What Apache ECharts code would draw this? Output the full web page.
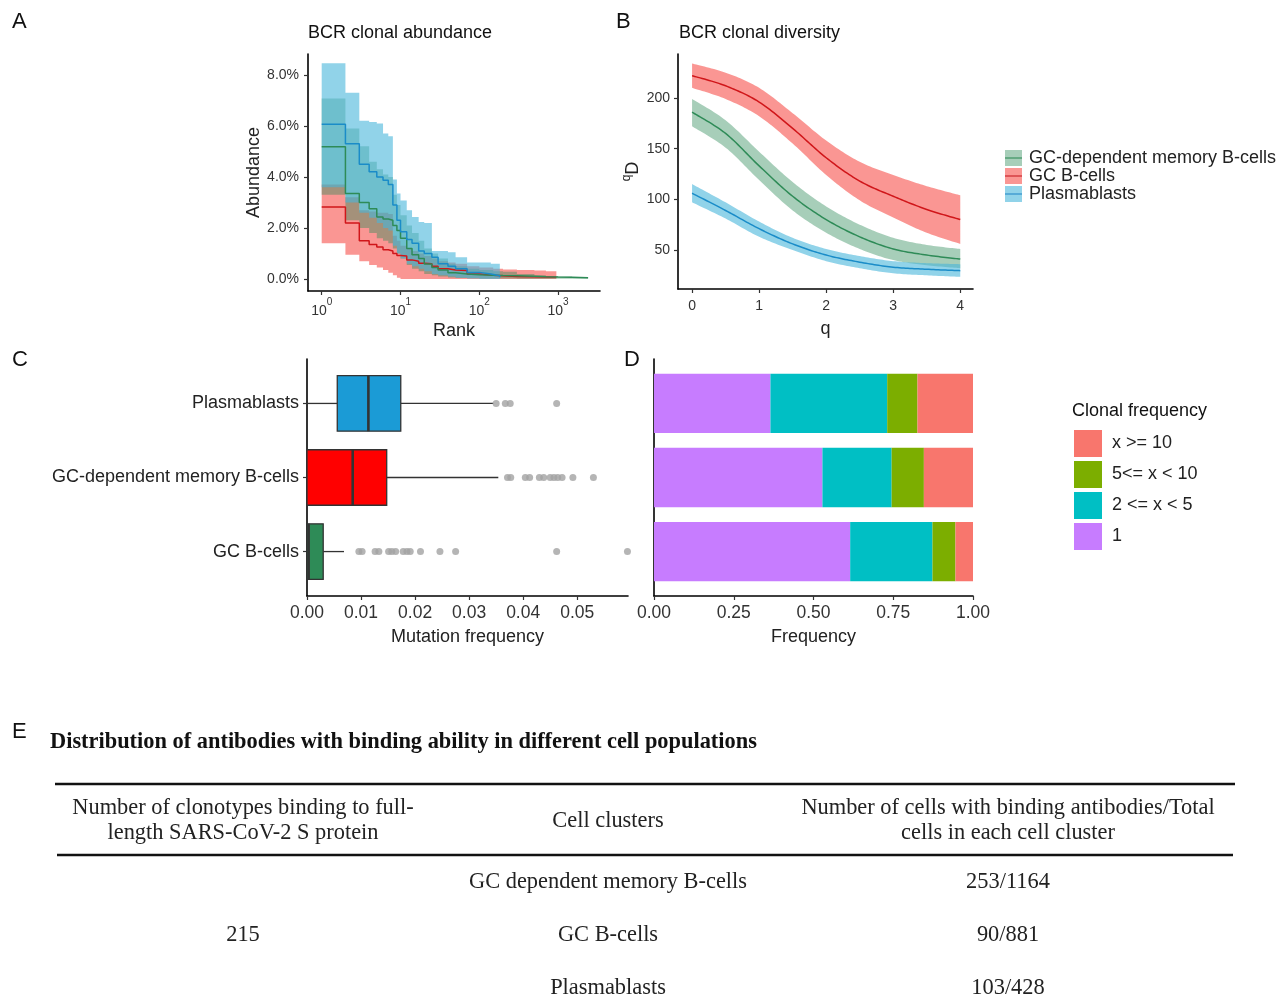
<!DOCTYPE html>
<html><head><meta charset="utf-8">
<script src="https://cdn.jsdelivr.net/npm/echarts@6/dist/echarts.min.js"></script>
<style>html,body{margin:0;padding:0;background:#fff}#c{width:1280px;height:1008px}</style>
</head><body><div id="c"></div>
<script>
// ---------- Panel A: clonal abundance (rank vs abundance %) ----------
const rankTicks = [1, 10, 100, 1000];
const abundTicks = [0, 2, 4, 6, 8];
const redRanks = [1,2,3,4,5,6,7,8,9,10, 12,14,17,20,25,30, 40,50,70,100,150,200, 300,500,700,950];
const redLine  = [2.82,2.2,1.5,1.35,1.25,1.15,1.1,1.0,0.92,0.9, 0.75,0.7,0.62,0.6,0.5,0.4, 0.35,0.33,0.2,0.15,0.13,0.1, 0.09,0.08,0.07,0.06];
const redUp    = [3.7,3.2,2.7,2.65,2.6,2.6,2.55,1.7,1.5,1.3, 1.2,1.1,1.0,0.9,0.8,0.7, 0.65,0.6,0.5,0.45,0.4,0.37, 0.35,0.33,0.3,0.15];
const redLo    = [1.4,0.95,0.7,0.55,0.45,0.35,0.25,0.15,0.05,0, 0,0,0,0,0,0, 0,0,0,0,0,0, 0,0,0,0];
const greenRanks = [1,2,3,4,5,6,7,8,9,10, 12,14,17,20,25,30, 40,50,70,100,150,200, 300,500,700,1000,1500,2400];
const greenLine  = [5.18,3.35,3.0,2.75,2.43,2.35,2.3,2.1,1.9,1.6, 1.2,0.95,0.8,0.59,0.45,0.35, 0.25,0.2,0.17,0.15,0.14,0.13, 0.11,0.09,0.08,0.07,0.05,0.03];
const greenUp    = [7.08,5.9,5.2,4.6,4.3,4.1,4.0,3.3,2.9,2.5, 2.1,1.8,1.5,1.2,1.0,0.8, 0.6,0.5,0.4,0.35,0.3,0.28, 0.2,0.15,0.12,0.1,0.07,0.05];
const greenLo    = [3.3,2.3,2.0,1.8,1.6,1.5,1.4,1.2,1.0,0.8, 0.55,0.4,0.3,0.2,0.15,0.1, 0.06,0.04,0.03,0.02,0.02,0.02, 0.01,0.01,0.01,0.01,0.01,0.01];
const blueRanks = [1,2,3,4,5,6,7,8,9,10, 12,14,17,20,25,30, 40,50,70,100,140,182];
const blueLine  = [6.07,5.3,4.5,4.2,4.0,3.87,3.7,2.9,2.3,1.85, 1.55,1.4,1.1,1.0,0.85,0.6, 0.5,0.4,0.26,0.2,0.13,0.07];
const blueUp    = [8.46,7.3,6.2,6.15,6.1,5.7,5.6,3.9,3.35,3.08, 2.7,2.43,2.23,2.2,1.1,1.1, 1.05,0.85,0.65,0.65,0.6,0.35];
const blueLo    = [3.6,3.0,2.6,2.4,2.2,2.0,1.9,1.3,1.0,0.8, 0.6,0.5,0.4,0.3,0.2,0.15, 0.1,0.05,0.02,0,0,0];

// ---------- Panel B: clonal diversity (q vs qD) ----------
const qVals = [0, 0.5, 1, 1.5, 2, 2.5, 3, 3.5, 4];
const qTicks = [0, 1, 2, 3, 4];
const dTicks = [50, 100, 150, 200];
const divRedLine = [222, 212, 196, 170, 141, 118, 103, 90, 80];
const divRedUp   = [234, 225, 210, 185, 158, 137, 124, 113, 104];
const divRedLo   = [210, 199, 182, 155, 124, 99, 82, 67, 56];
const divGreenLine = [186, 165, 133, 103, 80, 63, 51, 45, 41];
const divGreenUp   = [199, 178, 147, 117, 93, 75, 62, 55, 51];
const divGreenLo   = [172, 151, 119, 89, 67, 51, 40, 35, 32];
const divBlueLine = [106, 89, 71, 56, 45, 38, 33, 31, 29.6];
const divBlueUp   = [115, 97, 78, 62, 51, 44, 39, 37, 36];
const divBlueLo   = [97, 81, 63, 50, 39, 32, 27, 25, 23.5];
const groupNames = ['GC-dependent memory B-cells', 'GC B-cells', 'Plasmablasts'];

// ---------- Panel C: mutation frequency boxplots ----------
const boxCats = ['GC B-cells', 'GC-dependent memory B-cells', 'Plasmablasts'];
const boxCatIdx = [0, 1, 2];
// [min, Q1, median, Q3, max(whisker)]
const boxGCB   = [0, 0, 0.0003, 0.0030, 0.00685];
const boxGCDep = [0, 0, 0.00846, 0.01475, 0.0354];
const boxPB    = [0, 0.0056, 0.01136, 0.01735, 0.0345];
const outGCB   = [0.0096,0.0102,0.0126,0.0133,0.0151,0.0157,0.0164,0.0178,0.0185,0.0191,0.0210,0.0246,0.0275,0.0462,0.0593];
const outGCDep = [0.0371,0.0377,0.0404,0.0412,0.0430,0.0438,0.0450,0.0457,0.0464,0.0472,0.0492,0.0530];
const outPB    = [0.0350,0.0367,0.0376,0.0462];
const mutTicks = [0, 0.01, 0.02, 0.03, 0.04, 0.05];

// ---------- Panel D: clonal frequency composition ----------
const freqClasses = ['1', '2 <= x < 5', '5<= x < 10', 'x >= 10'];
const freq1     = [0.615, 0.528, 0.365];
const freq2to5  = [0.258, 0.217, 0.366];
const freq5to10 = [0.072, 0.101, 0.095];
const freq10    = [0.055, 0.154, 0.174];
const freqTicks = [0, 0.25, 0.5, 0.75, 1];

// ---------- Panel E: table ----------
const tableTitle = 'Distribution of antibodies with binding ability in different cell populations';
const tableHeaders = ['Number of clonotypes binding to full-\nlength SARS-CoV-2 S protein', 'Cell clusters', 'Number of cells with binding antibodies/Total\ncells in each cell cluster'];
const tableClonotypes = '215';
const tableClusters = ['GC dependent memory B-cells', 'GC B-cells', 'Plasmablasts'];
const tableRatios = ['253/1164', '90/881', '103/428'];

// ---------- styles ----------
const FONT = 'Liberation Sans';
const SERIF = 'Liberation Serif';
const RED_BAND = 'rgba(247,100,96,0.68)', RED_LINE = '#D0161A';
const GREEN_BAND = 'rgba(46,139,87,0.42)', GREEN_LINE = '#2E8B57';
const BLUE_BAND = 'rgba(72,182,218,0.6)', BLUE_LINE = '#1A8CC8';
const boxColors = ['#2E8B57', '#FF0000', '#1B9BD6'];
const freqColors = ['#C77CFF', '#00BFC4', '#7CAE00', '#F8766D'];

const axisLineStyle = {show: true, onZero: false, lineStyle: {color: '#000', width: 1.6}};
const tickStyle = {show: true, length: 4, lineStyle: {color: '#333', width: 1.2}};
const lblStyle = {color: '#333', fontSize: 14, fontFamily: FONT};
const nameStyle = {color: '#222', fontSize: 18, fontFamily: FONT};

function pairs(xs, ys) { return xs.map((x, i) => [x, ys[i]]); }

// Catmull-Rom sampled spline through pixel points
function spline(pts, k) {
  const out = [], n = pts.length;
  for (let i = 0; i < n - 1; i++) {
    const p0 = pts[Math.max(i - 1, 0)], p1 = pts[i], p2 = pts[i + 1], p3 = pts[Math.min(i + 2, n - 1)];
    const c1 = [p1[0] + (p2[0] - p0[0]) / 6, p1[1] + (p2[1] - p0[1]) / 6];
    const c2 = [p2[0] - (p3[0] - p1[0]) / 6, p2[1] - (p3[1] - p1[1]) / 6];
    for (let s = 0; s < k; s++) {
      const t = s / k, u = 1 - t;
      out.push([u*u*u*p1[0] + 3*u*u*t*c1[0] + 3*u*t*t*c2[0] + t*t*t*p2[0],
                u*u*u*p1[1] + 3*u*u*t*c1[1] + 3*u*t*t*c2[1] + t*t*t*p2[1]]);
    }
  }
  out.push(pts[n - 1]);
  return out;
}
function stepPts(pts) {
  const out = [];
  for (let i = 0; i < pts.length - 1; i++) { out.push(pts[i]); out.push([pts[i + 1][0], pts[i][1]]); }
  out.push(pts[pts.length - 1]);
  return out;
}
// confidence band as a custom series: data [x, lower, upper]
function bandSeries(name, xs, up, lo, color, ai, mode) {
  return {
    type: 'custom', name: name, xAxisIndex: ai, yAxisIndex: ai, silent: true, z: 2,
    data: xs.map((x, i) => [x, lo[i], up[i]]),
    encode: {x: 0, y: [1, 2]},
    renderItem: function (params, api) {
      if (params.dataIndexInside !== 0) return null;
      const n = params.dataInsideLength;
      const U = [], L = [];
      for (let i = 0; i < n; i++) {
        U.push(api.coord([api.value(0, i), api.value(2, i)]));
        L.push(api.coord([api.value(0, i), api.value(1, i)]));
      }
      const f = mode === 'step' ? stepPts : (p => spline(p, 16));
      const pts = f(U).concat(f(L).reverse());
      return {type: 'polygon', shape: {points: pts}, style: {fill: color}};
    }
  };
}
// smooth line through data, drawn with the same spline as the bands
function smoothLineSeries(name, xs, ys, color, ai) {
  return {
    type: 'custom', name: name, xAxisIndex: ai, yAxisIndex: ai, silent: true, z: 3,
    data: pairs(xs, ys), encode: {x: 0, y: 1},
    renderItem: function (params, api) {
      if (params.dataIndexInside !== 0) return null;
      const P = [];
      for (let i = 0; i < params.dataInsideLength; i++) P.push(api.coord([api.value(0, i), api.value(1, i)]));
      return {type: 'polyline', shape: {points: spline(P, 16)}, style: {stroke: color, lineWidth: 1.5, fill: null}};
    }
  };
}
const series = [];
function addLine(name, xs, ys, color, ai, opts) {
  series.push(Object.assign({type: 'line', name: name, xAxisIndex: ai, yAxisIndex: ai, data: pairs(xs, ys),
    symbol: 'none', lineStyle: {color: color, width: 1.5}, itemStyle: {color: color}, z: 3}, opts));
}
// Panel A
series.push(bandSeries('A GC B-cells band', redRanks, redUp, redLo, RED_BAND, 0, 'step'));
series.push(bandSeries('A GC-dependent memory B-cells band', greenRanks, greenUp, greenLo, GREEN_BAND, 0, 'step'));
series.push(bandSeries('A Plasmablasts band', blueRanks, blueUp, blueLo, BLUE_BAND, 0, 'step'));
addLine('A GC B-cells', redRanks, redLine, RED_LINE, 0, {step: 'end'});
addLine('A GC-dependent memory B-cells', greenRanks, greenLine, GREEN_LINE, 0, {step: 'end'});
addLine('A Plasmablasts', blueRanks, blueLine, BLUE_LINE, 0, {step: 'end'});
// Panel B
series.push(bandSeries(groupNames[1], qVals, divRedUp, divRedLo, RED_BAND, 1, 'smooth'));
series.push(bandSeries(groupNames[0], qVals, divGreenUp, divGreenLo, GREEN_BAND, 1, 'smooth'));
series.push(bandSeries(groupNames[2], qVals, divBlueUp, divBlueLo, BLUE_BAND, 1, 'smooth'));
series.push(smoothLineSeries(groupNames[1], qVals, divRedLine, RED_LINE, 1));
series.push(smoothLineSeries(groupNames[0], qVals, divGreenLine, GREEN_LINE, 1));
series.push(smoothLineSeries(groupNames[2], qVals, divBlueLine, BLUE_LINE, 1));

// Panel C boxplots (custom, ggplot-style without whisker caps)
const boxStats = [boxGCB, boxGCDep, boxPB];
series.push({
  type: 'custom', name: 'Mutation frequency', xAxisIndex: 2, yAxisIndex: 2,
  encode: {y: 0, x: [1, 2, 3, 4, 5]},
  data: boxStats.map((s, i) => [boxCatIdx[i]].concat(s)),
  renderItem: function (params, api) {
    const ci = api.value(0);
    const p = [1, 2, 3, 4, 5].map(d => api.coord([api.value(d), ci]));
    const h = api.size([0, 1])[1] * 0.75;
    const y = p[2][1];
    const st = {stroke: '#333', lineWidth: 1.3};
    return {type: 'group', children: [
      {type: 'line', shape: {x1: p[0][0], y1: y, x2: p[1][0], y2: y}, style: st},
      {type: 'line', shape: {x1: p[3][0], y1: y, x2: p[4][0], y2: y}, style: st},
      {type: 'rect', shape: {x: p[1][0], y: y - h / 2, width: p[3][0] - p[1][0], height: h},
        style: {fill: boxColors[params.dataIndex], stroke: '#333', lineWidth: 1.3}},
      {type: 'line', shape: {x1: p[2][0], y1: y - h / 2, x2: p[2][0], y2: y + h / 2}, style: {stroke: '#333', lineWidth: 2.6}}
    ]};
  }, z: 3
});
const outliers = [outGCB, outGCDep, outPB];
series.push({
  type: 'scatter', name: 'Outliers', xAxisIndex: 2, yAxisIndex: 2, symbolSize: 7,
  itemStyle: {color: '#A3A3A3'}, clip: true, z: 4,
  data: [].concat(...outliers.map((arr, i) => arr.map(v => [v, boxCatIdx[i]])))
});
// Panel D bars
[freq1, freq2to5, freq5to10, freq10].forEach((arr, k) => {
  series.push({type: 'bar', name: freqClasses[k], xAxisIndex: 4, yAxisIndex: 4, stack: 'D',
    barWidth: '80%', data: arr, itemStyle: {color: freqColors[k]}});
});

// ---------- Graphic: table E and legend B line keys ----------
const graphic = [];
const serifFont = '22.4px "' + SERIF + '"';
graphic.push({type: 'text', left: 50, top: 731, style: {text: tableTitle, font: 'bold 22.4px "' + SERIF + '"', fill: '#111'}});
graphic.push({type: 'line', shape: {x1: 55, y1: 784, x2: 1235, y2: 784}, style: {stroke: '#111', lineWidth: 2.5}});
graphic.push({type: 'line', shape: {x1: 57, y1: 855, x2: 1233, y2: 855}, style: {stroke: '#111', lineWidth: 2.5}});
const colX = [243, 608, 1008];
tableHeaders.forEach((t, i) => graphic.push({type: 'text', x: colX[i], y: 821,
  style: {text: t, align: 'center', verticalAlign: 'middle', lineHeight: 25, font: serifFont, fill: '#222'}}));
const rowY = [882, 935, 988];
tableClusters.forEach((t, i) => {
  graphic.push({type: 'text', x: colX[1], y: rowY[i], style: {text: t, align: 'center', verticalAlign: 'middle', font: serifFont, fill: '#222'}});
  graphic.push({type: 'text', x: colX[2], y: rowY[i], style: {text: tableRatios[i], align: 'center', verticalAlign: 'middle', font: serifFont, fill: '#222'}});
});
graphic.push({type: 'text', x: colX[0], y: rowY[1], style: {text: tableClonotypes, align: 'center', verticalAlign: 'middle', font: serifFont, fill: '#222'}});

const titleStyle = {fontWeight: 'normal', color: '#111', fontFamily: FONT};
const hidden = {show: false};
const option = {
  animation: false,
  backgroundColor: '#fff',
  textStyle: {fontFamily: FONT},
  title: [
    {text: 'A', left: 12, top: 11, padding: 0, textStyle: Object.assign({fontSize: 22}, titleStyle)},
    {text: 'BCR clonal abundance', left: 308, top: 24, padding: 0, textStyle: Object.assign({fontSize: 18}, titleStyle)},
    {text: 'B', left: 616, top: 11, padding: 0, textStyle: Object.assign({fontSize: 22}, titleStyle)},
    {text: 'BCR clonal diversity', left: 679, top: 24, padding: 0, textStyle: Object.assign({fontSize: 18}, titleStyle)},
    {text: 'C', left: 12, top: 349, padding: 0, textStyle: Object.assign({fontSize: 22}, titleStyle)},
    {text: 'D', left: 624, top: 349, padding: 0, textStyle: Object.assign({fontSize: 22}, titleStyle)},
    {text: 'Clonal frequency', left: 1072, top: 402, padding: 0, textStyle: Object.assign({fontSize: 18}, titleStyle)},
    {text: 'E', left: 12, top: 721, padding: 0, textStyle: Object.assign({fontSize: 22}, titleStyle)}
  ],
  legend: [
    {data: [
      {name: groupNames[0], itemStyle: {color: GREEN_BAND}},
      {name: groupNames[1], itemStyle: {color: RED_BAND}},
      {name: groupNames[2], itemStyle: {color: BLUE_BAND}}],
     orient: 'vertical', left: 1005, top: 149, padding: 0, itemWidth: 17, itemHeight: 16, itemGap: 0,
     // band-coloured key with the line through its middle
     icon: 'path://M0,0H17V7.3H0Z M0,8.7H17V16H0Z',
     itemStyle: {borderWidth: 0}, selectedMode: false,
     textStyle: {fontSize: 18, color: '#222', fontFamily: FONT, padding: [0, 0, 0, 2]}},
    {data: [
      {name: groupNames[0], itemStyle: {color: GREEN_LINE}},
      {name: groupNames[1], itemStyle: {color: RED_LINE}},
      {name: groupNames[2], itemStyle: {color: BLUE_LINE}}],
     orient: 'vertical', left: 1005, top: 149, padding: 0, itemWidth: 17, itemHeight: 16, itemGap: 0,
     icon: 'path://M0,7.3H17V8.7H0Z', itemStyle: {borderWidth: 0}, selectedMode: false,
     textStyle: {fontSize: 18, color: 'rgba(0,0,0,0)', fontFamily: FONT, padding: [0, 0, 0, 2]}},
    {data: ['x >= 10', '5<= x < 10', '2 <= x < 5', '1'],
     orient: 'vertical', left: 1074, top: 430, padding: 0, icon: 'rect', itemWidth: 28, itemHeight: 27, itemGap: 4,
     itemStyle: {borderWidth: 0}, selectedMode: false,
     textStyle: {fontSize: 18, color: '#222', fontFamily: FONT, padding: [0, 0, 0, 5]}}
  ],
  grid: [
    {left: 308, top: 54, width: 292, height: 237},
    {left: 678, top: 54, width: 295, height: 235},
    {left: 307, top: 359, width: 321, height: 237},
    {left: 654, top: 359, width: 319, height: 237},
    {left: 654, top: 366.4, width: 319, height: 222.2}
  ],
  xAxis: [
    {gridIndex: 0, type: 'log', logBase: 10, min: 0.67, max: 3400, splitLine: hidden,
     axisLine: axisLineStyle, axisTick: Object.assign({customValues: rankTicks}, tickStyle),
     axisLabel: Object.assign({}, lblStyle, {customValues: rankTicks, margin: 6,
       formatter: v => '{b|10}{s|' + Math.round(Math.log10(v)) + '}',
       rich: {b: {fontSize: 14, lineHeight: 21, verticalAlign: 'bottom', color: '#333'},
              s: {fontSize: 10, lineHeight: 21, verticalAlign: 'top', color: '#333'}}}),
     name: 'Rank', nameLocation: 'middle', nameGap: 31, nameTextStyle: nameStyle},
    {gridIndex: 1, type: 'value', min: -0.21, max: 4.19, splitLine: hidden,
     axisLine: axisLineStyle, axisTick: Object.assign({customValues: qTicks}, tickStyle),
     axisLabel: Object.assign({}, lblStyle, {customValues: qTicks, margin: 10}),
     name: 'q', nameLocation: 'middle', nameGap: 31, nameTextStyle: nameStyle},
    {gridIndex: 2, type: 'value', min: 0, max: 0.0594, splitLine: hidden,
     axisLine: axisLineStyle, axisTick: Object.assign({customValues: mutTicks}, tickStyle),
     axisLabel: Object.assign({}, lblStyle, {customValues: mutTicks, fontSize: 17.5, margin: 8, formatter: v => v.toFixed(2)}),
     name: 'Mutation frequency', nameLocation: 'middle', nameGap: 32, nameTextStyle: nameStyle},
    {gridIndex: 3, type: 'value', min: 0, max: 1, splitLine: hidden,
     axisLine: axisLineStyle, axisTick: Object.assign({customValues: freqTicks}, tickStyle),
     axisLabel: Object.assign({}, lblStyle, {customValues: freqTicks, fontSize: 17.5, margin: 8, formatter: v => v.toFixed(2)}),
     name: 'Frequency', nameLocation: 'middle', nameGap: 32, nameTextStyle: nameStyle},
    {gridIndex: 4, type: 'value', min: 0, max: 1, show: false, splitLine: hidden}
  ],
  yAxis: [
    {gridIndex: 0, type: 'value', min: -0.47, max: 8.82, splitLine: hidden,
     axisLine: axisLineStyle, axisTick: Object.assign({customValues: abundTicks}, tickStyle),
     axisLabel: Object.assign({}, lblStyle, {customValues: abundTicks, margin: 9, formatter: v => v.toFixed(1) + '%'}),
     name: 'Abundance', nameLocation: 'middle', nameGap: 44, nameTextStyle: nameStyle},
    {gridIndex: 1, type: 'value', min: 11.5, max: 243.4, splitLine: hidden,
     axisLine: axisLineStyle, axisTick: Object.assign({customValues: dTicks}, tickStyle),
     axisLabel: Object.assign({}, lblStyle, {customValues: dTicks, margin: 8}),
     name: '{s|q}{b|D}', nameLocation: 'middle', nameGap: 36,
     nameTextStyle: {rich: {s: {fontSize: 12, lineHeight: 21, verticalAlign: 'top', color: '#222'},
                            b: {fontSize: 18, lineHeight: 21, verticalAlign: 'bottom', color: '#222'}}}},
    {gridIndex: 2, type: 'value', min: -0.6, max: 2.6, splitLine: hidden,
     axisLine: axisLineStyle, axisTick: Object.assign({customValues: boxCatIdx}, tickStyle),
     axisLabel: {customValues: boxCatIdx, color: '#222', fontSize: 18, fontFamily: FONT, margin: 8,
       formatter: v => boxCats[Math.round(v)]}},
    {gridIndex: 3, type: 'value', min: -0.6, max: 2.6, splitLine: hidden,
     axisLine: axisLineStyle, axisTick: hidden, axisLabel: hidden},
    {gridIndex: 4, type: 'category', data: boxCats, show: false}
  ],
  graphic: graphic,
  series: series
};
const chart = echarts.init(document.getElementById('c'), null, {renderer: 'canvas'});
chart.setOption(option);
</script></body></html>
